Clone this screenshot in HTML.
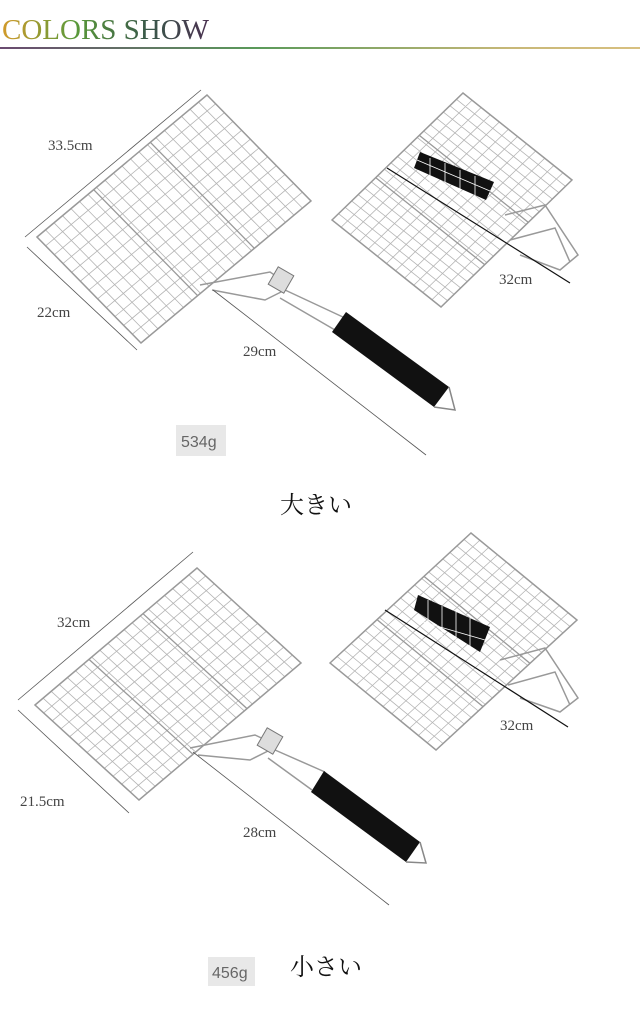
<!DOCTYPE html>
<html><head><meta charset="utf-8">
<style>
html,body{margin:0;padding:0;background:#fff;}
body{width:640px;height:1012px;overflow:hidden;}
svg{display:block}
.t{font-family:"Liberation Serif",serif;font-size:15px;fill:#444;}
.w{font-family:"Liberation Sans",sans-serif;font-size:16px;fill:#666;}
.j{font-family:"Liberation Serif","Noto Serif CJK SC",serif;font-size:24px;fill:#111;}
</style></head><body>
<svg width="640" height="1012" viewBox="0 0 640 1012" xmlns="http://www.w3.org/2000/svg">
<defs>
<linearGradient id="tg" x1="0" x2="1"><stop offset="0" stop-color="#d29a2a"/><stop offset="0.35" stop-color="#5a9a3a"/><stop offset="0.7" stop-color="#3a5a4a"/><stop offset="1" stop-color="#4a3050"/></linearGradient>
<linearGradient id="lg" x1="0" x2="1"><stop offset="0" stop-color="#6a4a70"/><stop offset="0.4" stop-color="#5a9a5a"/><stop offset="0.8" stop-color="#c8b878"/><stop offset="1" stop-color="#d8c080"/></linearGradient>
<g id="grid">
<path d="M1.2 0V15M2.4 0V15M3.6 0V15M4.8 0V15M6 0V15M7.2 0V15M8.4 0V15M9.6 0V15M10.8 0V15M12 0V15M13.2 0V15M14.4 0V15M15.6 0V15M16.8 0V15M18 0V15M19.2 0V15M20.4 0V15M21.6 0V15M22.8 0V15M0 1.25H24M0 2.5H24M0 3.75H24M0 5H24M0 6.25H24M0 7.5H24M0 8.75H24M0 10H24M0 11.25H24M0 12.5H24M0 13.75H24" fill="none" stroke="#b4b4b4" stroke-width="0.8" vector-effect="non-scaling-stroke"/>
<rect x="0" y="0" width="24" height="15" fill="none" stroke="#999" stroke-width="1.5" vector-effect="non-scaling-stroke"/>
<path d="M8 0V15M16 0V15" stroke="#999" stroke-width="1.3" vector-effect="non-scaling-stroke"/>
</g>
</defs>
<text x="2" y="39" font-family="Liberation Serif,serif" font-size="29" fill="url(#tg)">COLORS SHOW</text>
<rect x="0" y="47" width="640" height="2" fill="url(#lg)"/>

<use href="#grid" transform="matrix(7.083,-5.917,6.933,7.067,37,237)"/>
<g fill="none" stroke="#999" stroke-width="1.5">
<path d="M200 285 L270 272 L285 282 M212 290 L265 300 L285 290"/>
<path d="M285 290 L345 318 M280 298 L335 330"/>
</g>
<rect x="272" y="270" width="18" height="20" fill="#ddd" stroke="#777" transform="rotate(30 281 280)"/>
<polygon points="346,312 332,332 434,407 449,387" fill="#111"/>
<path d="M434 407 L455 410 L449 387" fill="none" stroke="#888" stroke-width="1.5"/>
<g stroke="#555" stroke-width="0.8">
<line x1="25" y1="237" x2="201" y2="90"/><line x1="27" y1="247" x2="137" y2="350"/><line x1="213" y1="290" x2="426" y2="455"/>
</g>
<text class="t" x="48" y="150">33.5cm</text>
<text class="t" x="37" y="317">22cm</text>
<text class="t" x="243" y="356">29cm</text>
<rect x="176" y="425" width="50" height="31" fill="#e8e8e8"/>
<text class="w" x="181" y="447">534g</text>

<use href="#grid" transform="matrix(5.458,-5.292,7.267,5.8,332,220)"/>
<path d="M505 215 L545 205 L578 255 L560 270 L520 255 M510 240 L555 228 L570 262" fill="none" stroke="#999" stroke-width="1.5"/>
<polygon points="420,152 494,182 486,200 414,168" fill="#111"/>
<path d="M430 158V190M445 163V194M460 170V196M475 176V198M417 160L490 191" stroke="#fff" stroke-width="0.8"/>
<line x1="387" y1="168" x2="570" y2="283" stroke="#111" stroke-width="1.2"/>
<text class="t" x="499" y="284">32cm</text>

<text class="j" x="280" y="513">大きい</text>

<use href="#grid" transform="matrix(6.75,-5.708,6.933,6.333,35,705)"/>
<g fill="none" stroke="#999" stroke-width="1.5">
<path d="M190 748 L255 735 L270 742 M198 755 L250 760 L270 750"/>
<path d="M275 750 L325 772 M268 758 L312 790"/>
</g>
<rect x="261" y="731" width="18" height="20" fill="#ddd" stroke="#777" transform="rotate(30 270 741)"/>
<polygon points="324,771 311,792 406,862 420,842" fill="#111"/>
<path d="M406 862 L426 863 L420 842" fill="none" stroke="#888" stroke-width="1.5"/>
<g stroke="#555" stroke-width="0.8">
<line x1="18" y1="700" x2="193" y2="552"/><line x1="18" y1="710" x2="129" y2="813"/><line x1="193" y1="752" x2="389" y2="905"/>
</g>
<text class="t" x="57" y="627">32cm</text>
<text class="t" x="20" y="806">21.5cm</text>
<text class="t" x="243" y="837">28cm</text>

<use href="#grid" transform="matrix(5.875,-5.417,7.067,5.8,330,663)"/>
<path d="M500 660 L545 648 L578 698 L560 712 L520 698 M508 685 L555 672 L570 705" fill="none" stroke="#999" stroke-width="1.5"/>
<polygon points="418,595 490,627 480,652 414,610" fill="#111"/>
<path d="M428 600V632M442 606V638M456 612V644M470 618V648M416 620L485 640" stroke="#fff" stroke-width="0.8"/>
<line x1="385" y1="610" x2="568" y2="727" stroke="#111" stroke-width="1.2"/>
<text class="t" x="500" y="730">32cm</text>

<rect x="208" y="957" width="47" height="29" fill="#e8e8e8"/>
<text class="w" x="212" y="978">456g</text>
<text class="j" x="290" y="975">小さい</text>
</svg>
</body></html>
